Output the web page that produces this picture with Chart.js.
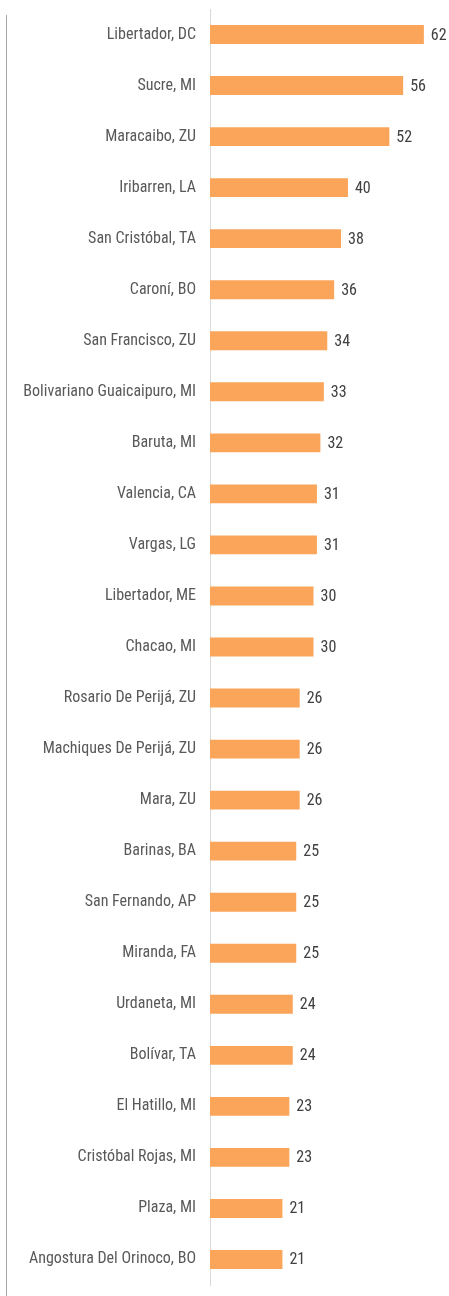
<!DOCTYPE html>
<html>
<head>
<meta charset="utf-8">
<script src="https://cdn.jsdelivr.net/npm/chart.js@4"></script>
<style>
    html, body { margin: 0; padding: 0; background: #fff; }
    .wrap { position: relative; width: 449px; height: 1296px; }
    .wrap canvas { display: block; }
    .frame { position: absolute; left: 6px; top: 15px; bottom: 0; width: 1px; background: #a6a6a6; }
</style>
</head>
<body>
<div class="wrap">
    <div class="frame"></div>
    <canvas id="municipiosChart" width="449" height="1296"></canvas>
</div>
<script>
const municipios = [
    'Libertador, DC', 'Sucre, MI', 'Maracaibo, ZU', 'Iribarren, LA', 'San Cristóbal, TA',
    'Caroní, BO', 'San Francisco, ZU', 'Bolivariano Guaicaipuro, MI', 'Baruta, MI', 'Valencia, CA',
    'Vargas, LG', 'Libertador, ME', 'Chacao, MI', 'Rosario De Perijá, ZU', 'Machiques De Perijá, ZU',
    'Mara, ZU', 'Barinas, BA', 'San Fernando, AP', 'Miranda, FA', 'Urdaneta, MI',
    'Bolívar, TA', 'El Hatillo, MI', 'Cristóbal Rojas, MI', 'Plaza, MI', 'Angostura Del Orinoco, BO'
];
const totales = [62, 56, 52, 40, 38, 36, 34, 33, 32, 31, 31, 30, 30, 26, 26, 26, 25, 25, 25, 24, 24, 23, 23, 21, 21];

const FONT = "'Roboto Condensed', 'Liberation Sans Narrow', 'DejaVu Sans Condensed', sans-serif";

// writes the total just past the end of each bar
const valueLabels = {
    id: 'valueLabels',
    afterDatasetsDraw(chart) {
        const ctx = chart.ctx;
        const meta = chart.getDatasetMeta(0);
        ctx.save();
        ctx.font = `16px ${FONT}`;
        ctx.fillStyle = '#404040';
        ctx.textAlign = 'left';
        ctx.textBaseline = 'middle';
        meta.data.forEach((bar, i) => {
            ctx.fillText(totales[i], bar.x + 7, bar.y + 1);
        });
        ctx.restore();
    }
};

document.addEventListener('DOMContentLoaded', () => {
    new Chart(document.getElementById('municipiosChart'), {
        type: 'bar',
        data: {
            labels: municipios,
            datasets: [{
                data: totales,
                backgroundColor: '#FAA55A',
                borderWidth: 0,
                categoryPercentage: 1,
                barPercentage: 0.37
            }]
        },
        options: {
            indexAxis: 'y',
            responsive: false,
            animation: false,
            devicePixelRatio: 1,
            layout: { padding: { top: 9, bottom: 11, left: 0, right: 1 } },
            plugins: {
                legend: { display: false },
                tooltip: { enabled: false }
            },
            scales: {
                x: {
                    display: false,
                    min: 0,
                    max: 69
                },
                y: {
                    // fixed label column, no extra room above/below the rows
                    afterFit(scale) {
                        scale.width = 210;
                        scale.paddingTop = 0;
                        scale.paddingBottom = 0;
                    },
                    grid: { display: false },
                    border: { display: true, color: '#d9d9d9', width: 1 },
                    ticks: {
                        color: '#595959',
                        padding: 6,
                        font: { family: FONT, size: 16 }
                    }
                }
            }
        },
        plugins: [valueLabels]
    });
});
</script>
</body>
</html>
